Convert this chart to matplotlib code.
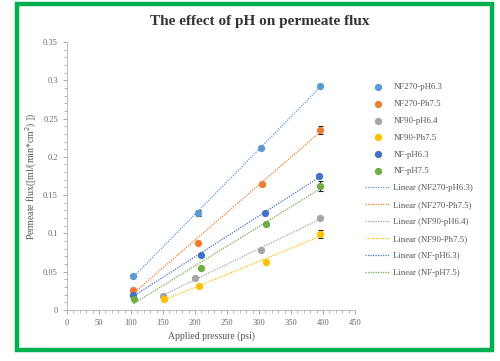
import numpy as np
import matplotlib
matplotlib.use("Agg")
import matplotlib.pyplot as plt
from matplotlib.patches import Rectangle

plt.rcParams['font.family'] = ['Liberation Serif', 'DejaVu Serif']

# data
names = ["NF270-pH6.3", "NF270-Ph7.5", "NF90-pH6.4", "NF90-Ph7.5", "NF-pH6.3", "NF-pH7.5"]
colors = ["#5B9BD5", "#ED7D31", "#A5A5A5", "#FFC000", "#4472C4", "#70AD47"]

p_nf270_63 = [103, 204, 303, 395]
f_nf270_63 = [0.044, 0.127, 0.211, 0.292]
e_nf270_63 = [0.0, 0.004, 0.0, 0.0]

p_nf270_75 = [103, 204, 304, 395]
f_nf270_75 = [0.026, 0.088, 0.165, 0.235]
e_nf270_75 = [0.0, 0.0, 0.0, 0.005]

p_nf90_64 = [150, 200, 303, 395]
f_nf90_64 = [0.019, 0.042, 0.078, 0.120]
e_nf90_64 = [0.0, 0.0, 0.0, 0.0]

p_nf90_75 = [151, 206, 311, 395]
f_nf90_75 = [0.015, 0.031, 0.063, 0.099]
e_nf90_75 = [0.0, 0.0, 0.0, 0.005]

p_nf_63 = [103, 210, 310, 394]
f_nf_63 = [0.020, 0.072, 0.127, 0.175]
e_nf_63 = [0.0, 0.0, 0.0, 0.0]

p_nf_75 = [104, 210, 311, 395]
f_nf_75 = [0.014, 0.055, 0.113, 0.162]
e_nf_75 = [0.0, 0.0, 0.0, 0.006]

pressures = [p_nf270_63, p_nf270_75, p_nf90_64, p_nf90_75, p_nf_63, p_nf_75]
fluxes = [f_nf270_63, f_nf270_75, f_nf90_64, f_nf90_75, f_nf_63, f_nf_75]
errors = [e_nf270_63, e_nf270_75, e_nf90_64, e_nf90_75, e_nf_63, e_nf_75]

fig = plt.figure(figsize=(5, 3.61), dpi=100)

# green frame round the picture
fig.patches.append(Rectangle((0.034, 0.03), 0.95, 0.96, transform=fig.transFigure,
                             fill=False, edgecolor="#00B050", linewidth=3.2))

ax = fig.add_axes([0.134, 0.141, 0.576, 0.743])

marker_handles = []
line_handles = []
for name, c, p, f, e in zip(names, colors, pressures, fluxes, errors):
    # error bars first, then the markers
    ax.errorbar(p, f, yerr=e, fmt='none', ecolor='#222222', elinewidth=0.8,
                capsize=1.8, capthick=0.8, zorder=3)
    h = ax.scatter(p, f, color=c, s=18, zorder=4, label=name)
    marker_handles.append(h)

for name, c, p, f in zip(names, colors, pressures, fluxes):
    # linear trend line like excel
    k, b = np.polyfit(p, f, 1)
    xs = np.array([min(p), max(p)])
    ln, = ax.plot(xs, k * xs + b, color=c, linestyle=(0, (1, 1)), linewidth=0.9,
                  zorder=2, label="Linear (" + name + ")")
    line_handles.append(ln)

ax.set_xlim(0, 450)
ax.set_ylim(0, 0.35)
ax.set_xticks(range(0, 451, 50))
ax.set_yticks([0, 0.05, 0.1, 0.15, 0.2, 0.25, 0.3, 0.35])
ax.set_yticklabels(["0", "0.05", "0.1", "0.15", "0.2", "0.25", "0.3", "0.35"])
ax.minorticks_on()
ax.tick_params(axis='both', which='major', labelsize=6, colors='#999999',
               labelcolor='#666666', length=3, width=0.6)
ax.tick_params(axis='both', which='minor', colors='#999999', length=2, width=0.5)

for s in ['top', 'right']:
    ax.spines[s].set_visible(False)
for s in ['left', 'bottom']:
    ax.spines[s].set_color('#BBBBBB')
    ax.spines[s].set_linewidth(0.7)

ax.set_xlabel("Applied pressure (psi)", fontsize=7, color='#555555', labelpad=3)
ax.set_ylabel("Permeate flux([ml/(min*cm$^2$) ])", fontsize=7, color='#555555', labelpad=3)

fig.text(0.52, 0.94, "The effect of pH on permeate flux", ha='center', va='center',
         fontsize=11, fontweight='bold', color='#333333')

fig.legend(handles=marker_handles + line_handles, loc='upper left',
           bbox_to_anchor=(0.715, 0.792), frameon=False, fontsize=6.3,
           labelcolor='#555555', handlelength=2.8, labelspacing=1.0,
           handletextpad=0.4)

fig.savefig("out.png", dpi=100)
